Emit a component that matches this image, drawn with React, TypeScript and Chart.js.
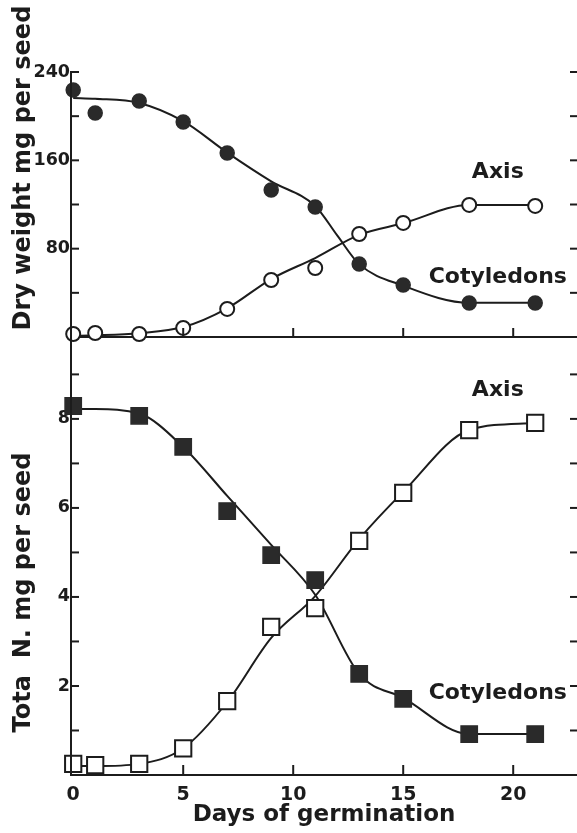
import React, { useEffect, useRef } from 'react';
import { Chart, registerables } from 'chart.js';

Chart.register(...registerables);

// ---- data ----
const days = [0, 1, 3, 5, 7, 9, 11, 13, 15, 18, 21];

// Top panel: dry weight (mg per seed) — measured points
const cotyledonDryPoints = [223.7, 202.9, 213.8, 194.7, 166.7, 133.2, 117.8, 66.1, 47.1, 30.8, 30.8];
const axisDryPoints = [2.7, 3.6, 2.7, 8.2, 25.4, 51.6, 62.5, 93.3, 103.3, 119.6, 118.7];
// fitted curves
const cotyledonDryCurveDays = [0, 1, 3, 5, 7, 9, 11, 12, 13, 15, 18, 21];
const cotyledonDryCurve = [216.5, 215.8, 212, 195.5, 167, 141, 118.7, 92, 66, 46.5, 31, 31];
const axisDryCurveDays = [0, 1, 3, 5, 7, 9, 11, 13, 15, 18, 21];
const axisDryCurve = [1, 1.5, 3.5, 9, 26, 52.5, 71.5, 92.5, 103, 119.6, 119.6];

// Bottom panel: total N (mg per seed) — measured points
const cotyledonNDays = [0, 3, 5, 7, 9, 11, 13, 15, 18, 21];
const cotyledonNPoints = [8.29, 8.07, 7.37, 5.93, 4.94, 4.38, 2.27, 1.71, 0.92, 0.92];
const axisNPoints = [0.25, 0.22, 0.25, 0.6, 1.66, 3.33, 3.75, 5.26, 6.34, 7.75, 7.91];
// fitted curves
const cotyledonNCurveDays = [0, 1, 3, 5, 7, 9, 11, 13, 15, 18, 21];
const cotyledonNCurve = [8.22, 8.22, 8.12, 7.37, 6.27, 5.17, 4.05, 2.27, 1.73, 0.92, 0.92];
const axisNCurveDays = [0, 1, 3, 5, 7, 9, 11, 13, 15, 18, 21];
const axisNCurve = [0.2, 0.2, 0.25, 0.6, 1.64, 3.08, 4.02, 5.3, 6.36, 7.75, 7.91];

// tick labels
const xTickLabels = [0, 5, 10, 15, 20];
const topTickLabels = [80, 160, 240];
const bottomTickLabels = [2, 4, 6, 8];

// text
const xTitle = 'Days of germination';
const topTitle = 'Dry weight mg per seed';
const bottomTitle = 'Tota  N. mg per seed';
const seriesNames = ['Axis', 'Cotyledons'];

// ---- styling ----
const INK = '#1c1c1c';
const MARK = '#2a2a2a';
const FONT = '"DejaVu Sans", sans-serif';

const pts = (xs: number[], ys: number[]) => xs.map((x, i) => ({ x, y: ys[i] }));

const decorPlugin = {
  id: 'figureDecor',
  afterDatasetsDraw(chart: any) {
    const { ctx, chartArea, scales } = chart;
    const xs = scales.x;
    const yT = scales.yTop;
    const yB = scales.yBot;
    ctx.save();
    ctx.strokeStyle = INK;
    ctx.lineWidth = 2;
    const seg = (x1: number, y1: number, x2: number, y2: number) => {
      ctx.beginPath();
      ctx.moveTo(x1, y1);
      ctx.lineTo(x2, y2);
      ctx.stroke();
    };
    // inner ticks on left and right edges
    for (const s of [yT, yB]) {
      for (const t of s.ticks) {
        if (t.value <= 0) continue;
        const py = s.getPixelForValue(t.value);
        seg(chartArea.left, py, chartArea.left + 8, py);
        seg(chartArea.right, py, chartArea.right - 7, py);
      }
    }
    // inner ticks on x axes (bottom axis and top panel baseline)
    const base = yT.getPixelForValue(0);
    for (const t of xs.ticks) {
      if (t.value <= 0) continue;
      const px = xs.getPixelForValue(t.value);
      seg(px, chartArea.bottom, px, chartArea.bottom - 10);
      seg(px, base, px, base - 9);
    }
    // redraw left axis line over markers
    seg(chartArea.left, chartArea.top, chartArea.left, chartArea.bottom);

    // series labels
    ctx.fillStyle = INK;
    ctx.font = `bold 22px ${FONT}`;
    ctx.textAlign = 'center';
    ctx.textBaseline = 'alphabetic';
    const lx = xs.getPixelForValue(19.3);
    ctx.fillText(seriesNames[0], lx, yT.getPixelForValue(144));
    ctx.fillText(seriesNames[1], lx, yT.getPixelForValue(49));
    ctx.fillText(seriesNames[0], lx, yB.getPixelForValue(8.52));
    ctx.fillText(seriesNames[1], lx, yB.getPixelForValue(1.71));

    // y axis titles
    ctx.font = `bold 24px ${FONT}`;
    ctx.textBaseline = 'middle';
    const tx = chartArea.left - 47;
    const drawV = (text: string, cy: number) => {
      ctx.save();
      ctx.translate(tx, cy);
      ctx.rotate(-Math.PI / 2);
      ctx.fillText(text, 0, 0);
      ctx.restore();
    };
    drawV(topTitle, yT.getPixelForValue(153));
    drawV(bottomTitle, yB.getPixelForValue(4.1));
    ctx.restore();
  },
};

const tickFont = { family: FONT, size: 17.5, weight: 'bold' as const };

export default function App() {
  const ref = useRef<HTMLCanvasElement | null>(null);

  useEffect(() => {
    if (!ref.current) return;
    const lineDs = (data: any, yAxisID: string) => ({
      type: 'line' as const,
      data,
      yAxisID,
      showLine: true,
      borderColor: INK,
      borderWidth: 2,
      pointRadius: 0,
      pointHoverRadius: 0,
      cubicInterpolationMode: 'monotone' as const,
      fill: false,
      order: 2,
      clip: false as any,
    });
    const markDs = (data: any, yAxisID: string, style: string, filled: boolean, r: number) => ({
      type: 'line' as const,
      data,
      yAxisID,
      showLine: false,
      pointStyle: style,
      pointRadius: r,
      pointHoverRadius: r,
      pointBackgroundColor: filled ? MARK : '#ffffff',
      pointBorderColor: filled ? MARK : INK,
      pointBorderWidth: filled ? 1.5 : 2,
      order: 0,
      clip: false as any,
    });

    const chart = new Chart(ref.current, {
      type: 'line',
      data: {
        datasets: [
          markDs(pts(days, cotyledonDryPoints), 'yTop', 'circle', true, 7),
          markDs(pts(days, axisDryPoints), 'yTop', 'circle', false, 7),
          markDs(pts(cotyledonNDays, cotyledonNPoints), 'yBot', 'rect', true, 11.5),
          markDs(pts(days, axisNPoints), 'yBot', 'rect', false, 11.5),
          lineDs(pts(cotyledonDryCurveDays, cotyledonDryCurve), 'yTop'),
          lineDs(pts(axisDryCurveDays, axisDryCurve), 'yTop'),
          lineDs(pts(cotyledonNCurveDays, cotyledonNCurve), 'yBot'),
          lineDs(pts(axisNCurveDays, axisNCurve), 'yBot'),
        ] as any,
      },
      options: {
        responsive: false,
        animation: false,
        devicePixelRatio: 1,
        layout: { autoPadding: false, padding: { top: 72, left: 0, right: 0, bottom: 0 } },
        plugins: { legend: { display: false }, tooltip: { enabled: false } },
        events: [],
        scales: {
          x: {
            type: 'linear',
            min: -0.1,
            max: 22.9,
            ticks: {
              stepSize: 5,
              includeBounds: false,
              autoSkip: false,
              maxRotation: 0,
              padding: 9,
              color: INK,
              font: { family: FONT, size: 19, weight: 'bold' },
              callback: (v: any) => (xTickLabels.includes(Number(v)) ? String(v) : ''),
            },
            grid: { display: true, drawOnChartArea: false, drawTicks: false },
            border: { display: true, color: INK, width: 2 },
            title: {
              display: true,
              text: xTitle,
              color: INK,
              font: { family: FONT, size: 23, weight: 'bold' },
              padding: { top: 0, bottom: 4 },
            },
            afterFit: (s: any) => {
              s.height = 58;
            },
          },
          yBot: {
            type: 'linear',
            position: 'left',
            stack: 'panels',
            stackWeight: 438,
            min: 0,
            max: 9.84,
            ticks: {
              stepSize: 1,
              includeBounds: false,
              autoSkip: false,
              padding: 1,
              color: INK,
              font: tickFont,
              callback: (v: any) => (bottomTickLabels.includes(Number(v)) ? String(v) : ''),
            },
            grid: { display: true, drawOnChartArea: false, drawTicks: false },
            border: { display: true, color: INK, width: 2 },
            afterFit: (s: any) => {
              s.width = 71;
            },
          },
          yTop: {
            type: 'linear',
            position: 'left',
            stack: 'panels',
            stackWeight: 265,
            min: 0,
            max: 240,
            ticks: {
              stepSize: 40,
              includeBounds: false,
              autoSkip: false,
              padding: 1,
              color: INK,
              font: tickFont,
              callback: (v: any) => (topTickLabels.includes(Number(v)) ? String(v) : ''),
            },
            grid: {
              display: true,
              drawOnChartArea: true,
              drawTicks: false,
              lineWidth: 2,
              color: (c: any) => (c.tick && c.tick.value === 0 ? INK : 'rgba(0,0,0,0)'),
            },
            border: { display: true, color: INK, width: 2 },
            afterFit: (s: any) => {
              s.width = 71;
            },
          },
        } as any,
      },
      plugins: [decorPlugin],
    });
    return () => chart.destroy();
  }, []);

  return (
    <div style={{ position: 'absolute', left: 0, top: 0, width: 577, height: 833, background: '#ffffff' }}>
      <canvas ref={ref} width={577} height={833} style={{ display: 'block' }} />
    </div>
  );
}
